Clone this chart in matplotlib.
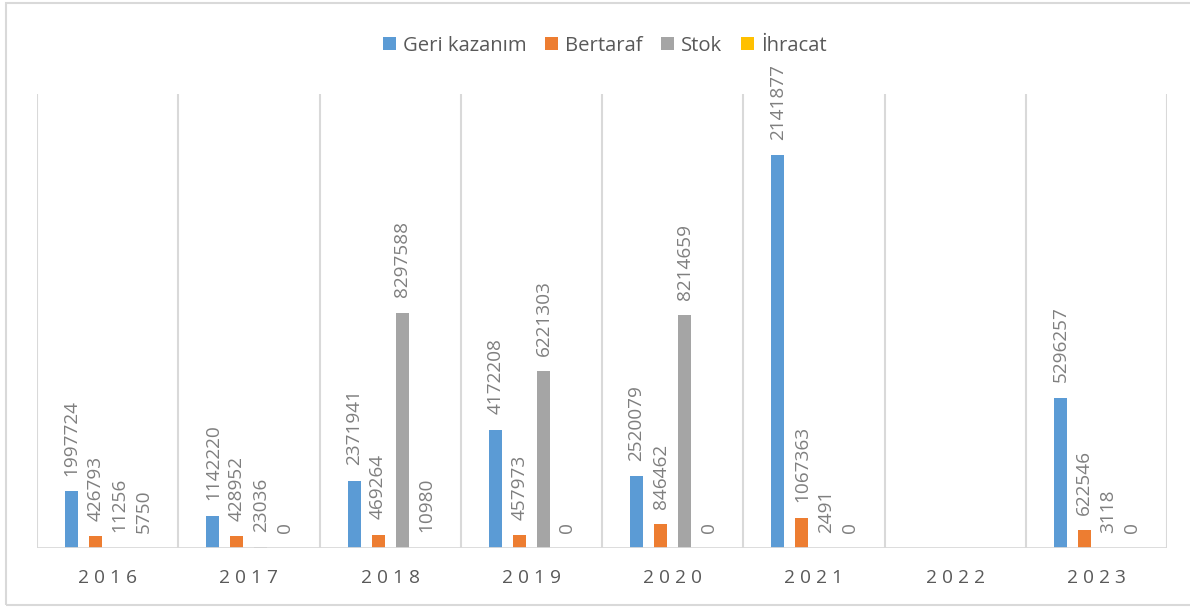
import numpy as np
import matplotlib

matplotlib.use("Agg")
import matplotlib.pyplot as plt
from matplotlib.patches import Patch, Rectangle

years = ["2016", "2017", "2018", "2019", "2020", "2021", "2022", "2023"]
series_names = ["Geri kazanım", "Bertaraf", "Stok", "İhracat"]
colors = ["#5B9BD5", "#ED7D31", "#A5A5A5", "#FFC000"]

# 2022 has no data; bar heights
geri = [1997724, 1142220, 2371941, 4172208, 2520079, 13850000, np.nan, 5296257]
bertaraf = [426793, 428952, 469264, 457973, 846462, 1067363, np.nan, 622546]
stok = [11256, 23036, 8297588, 6221303, 8214659, 2491, np.nan, 3118]
ihracat = [5750, 0, 10980, 0, 0, 0, np.nan, 0]

# label texts as printed on the chart
geri_labels = ["1997724", "1142220", "2371941", "4172208", "2520079", "2141877", "", "5296257"]
bertaraf_labels = ["426793", "428952", "469264", "457973", "846462", "1067363", "", "622546"]
stok_labels = ["11256", "23036", "8297588", "6221303", "8214659", "2491", "", "3118"]
ihracat_labels = ["5750", "0", "10980", "0", "0", "0", "", "0"]

series = [geri, bertaraf, stok, ihracat]
labels = [geri_labels, bertaraf_labels, stok_labels, ihracat_labels]

plt.rcParams["font.family"] = ["Open Sans", "DejaVu Sans"]

fig = plt.figure(figsize=(11.9, 6.08), dpi=100)
ax = fig.add_axes([37 / 1190, 1 - 548 / 608, 1130 / 1190, 454 / 608])

x = np.arange(len(years))
step = 0.17
width = 0.092
for i, (vals, labs) in enumerate(zip(series, labels)):
    pos = x + (i - 1.5) * step
    ax.bar(pos, vals, width=width, color=colors[i], zorder=3)
    for px, v, t in zip(pos, vals, labs):
        if t == "":
            continue
        ax.annotate(t, (px, v), xytext=(0, 11), textcoords="offset points",
                    rotation=90, ha="center", va="bottom", fontsize=13.7,
                    color="#7F7F7F", annotation_clip=False)

ax.set_xlim(-0.5, len(years) - 0.5)
ax.set_ylim(0, 16000000)
for b in np.arange(-0.5, len(years), 1.0):
    ax.axvline(b, color="#D9D9D9", lw=1.5, zorder=1)
ax.axhline(0, color="#D9D9D9", lw=2, zorder=4)

for s in ax.spines.values():
    s.set_visible(False)
ax.set_yticks([])
ax.set_xticks(x)
ax.set_xticklabels([" ".join(y) for y in years], fontsize=13.8, color="#595959")
ax.tick_params(axis="x", length=0, pad=15)

handles = [Patch(facecolor=c, label=n) for c, n in zip(colors, series_names)]
fig.legend(handles=handles, loc="center", bbox_to_anchor=(0.508, 0.925), ncol=4,
           frameon=False, fontsize=14.6, handlelength=0.65, handleheight=0.65,
           handletextpad=0.35, columnspacing=0.9, labelcolor="#595959")

fig.patches.append(Rectangle((6 / 1190, 3 / 608), 1.0, 602 / 608, transform=fig.transFigure,
                             fill=False, edgecolor="#D9D9D9", lw=1.5))

fig.savefig("out.png", dpi=100)
